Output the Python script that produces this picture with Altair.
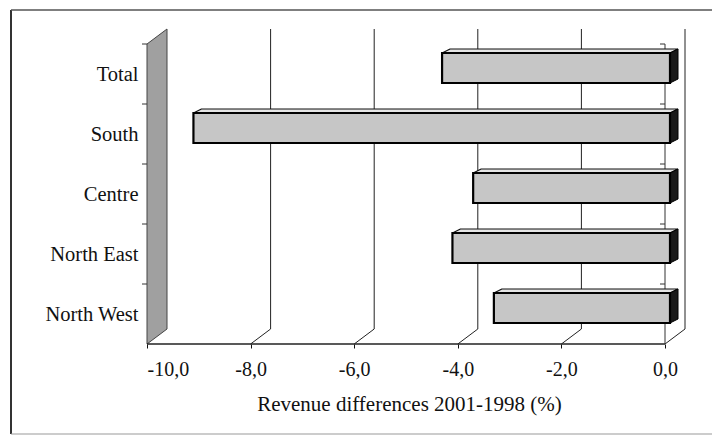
import json
import altair as alt
import pandas as pd

# ---- data ----
categories = ["Total", "South", "Centre", "North East", "North West"]
values = [-4.4, -9.2, -3.8, -4.2, -3.4]
x_ticks = [-10, -8, -6, -4, -2, 0]
axis_title = "Revenue differences 2001-1998 (%)"

# ---- geometry / style constants (pixels converted to scale units) ----
PX_X = 51.8          # pixels per x unit
PX_Y = 60.0          # pixels per category slot
X_MIN = x_ticks[0]
WALL_DX = 20 / PX_X  # depth of the 3-D box
WALL_DY = 15 / PX_Y
X_MAX = x_ticks[-1] + WALL_DX
Y_TOP = len(categories)
Y_MAX = Y_TOP + WALL_DY
BAR_SX = 5 / PX_X    # bar front plane shift
BAR_DX = 8 / PX_X    # bar depth
BAR_DY = 4 / PX_Y
BAR_UP = 21 / PX_Y
BAR_DN = 9 / PX_Y

W = round((X_MAX - X_MIN) * PX_X)
H = round(Y_MAX * PX_Y)

n = len(categories)
front, topf, rightf = [], [], []
for k, (cat, v) in enumerate(zip(categories, values)):
    c = (n - 1 - k) + 0.5
    b, t = c - BAR_DN, c + BAR_UP
    x0, x1 = v + BAR_SX, 0 + BAR_SX
    front.append(dict(cat=cat, x0=x0, x1=x1, yb=b, yt=t))
    topf.append(dict(cat=cat, y=t, xa=x0, xb=x1))
    topf.append(dict(cat=cat, y=t + BAR_DY, xa=x0 + BAR_DX, xb=x1 + BAR_DX))
    rightf.append(dict(cat=cat, x=x1, yb=b, yt=t))
    rightf.append(dict(cat=cat, x=x1 + BAR_DX, yb=b + BAR_DY, yt=t + BAR_DY))

front_df = pd.DataFrame(front)
top_df = pd.DataFrame(topf)
right_df = pd.DataFrame(rightf)
wall_df = pd.DataFrame([
    dict(x=X_MIN, yb=0, yt=Y_TOP),
    dict(x=X_MIN + WALL_DX, yb=WALL_DY, yt=Y_TOP + WALL_DY),
])
grid_back_df = pd.DataFrame([dict(x=v + WALL_DX, y=WALL_DY, y2=Y_TOP + WALL_DY) for v in x_ticks[1:]])
grid_slant_df = pd.DataFrame([dict(x=v, x2=v + WALL_DX, y=0, y2=WALL_DY) for v in x_ticks[1:]])
axis_line_df = pd.DataFrame([dict(x=X_MIN, x2=x_ticks[-1], y=0)])
zero_line_df = pd.DataFrame([dict(x=x_ticks[-1], y=0, y2=Y_TOP)])
cat_ticks_df = pd.DataFrame([dict(x=xp, y=b) for xp in (X_MIN, x_ticks[-1]) for b in range(1, n + 1)])
one = pd.DataFrame([dict(a=0)])

xs = alt.Scale(domain=[X_MIN, X_MAX], nice=False, zero=False)
ys = alt.Scale(domain=[0, Y_MAX], nice=False, zero=False)

FONT = "Liberation Serif"
names_bottom_up = categories[::-1]

x_axis = alt.Axis(
    values=x_ticks, labelExpr="datum.value + ',0'", domain=False, grid=False,
    ticks=True, tickSize=4, tickColor="#111", labelFont=FONT, labelFontSize=20,
    labelColor="#111", labelPadding=11, title=axis_title, titleFont=FONT,
    titleFontSize=21, titleFontWeight="normal", titleColor="#111",
    titlePadding=14, titleX=262,
)
y_axis = alt.Axis(
    values=[i + 0.5 for i in range(n)],
    labelExpr=json.dumps(names_bottom_up) + "[floor(datum.value)]",
    domain=False, grid=False, ticks=False, labelPadding=9, labelFont=FONT,
    labelFontSize=20.5, labelColor="#111", title="",
)

frame_color = "#555"
frame_left = alt.Chart(one).mark_rule(color="#333", strokeWidth=2).encode(
    x=alt.value(-136), y=alt.value(-19), y2=alt.value(405))
frame_top = alt.Chart(one).mark_rule(color=frame_color, strokeWidth=1.5).encode(
    x=alt.value(-136), x2=alt.value(565), y=alt.value(-19))
frame_bottom = alt.Chart(one).mark_rule(color="#999", strokeWidth=1).encode(
    x=alt.value(-136), x2=alt.value(565), y=alt.value(405))

wall = alt.Chart(wall_df).mark_area(fill="#a0a0a0", stroke="#444", strokeWidth=1).encode(
    x=alt.X("x:Q", scale=xs, axis=x_axis),
    y=alt.Y("yb:Q", scale=ys, axis=y_axis),
    y2="yt:Q",
)

grid_back = alt.Chart(grid_back_df).mark_rule(color="#222", strokeWidth=1).encode(
    x=alt.X("x:Q", scale=xs), y=alt.Y("y:Q", scale=ys), y2="y2:Q")
grid_slant = alt.Chart(grid_slant_df).mark_rule(color="#222", strokeWidth=1).encode(
    x=alt.X("x:Q", scale=xs), x2="x2:Q",
    y=alt.Y("y:Q", scale=ys), y2="y2:Q")
axis_line = alt.Chart(axis_line_df).mark_rule(color="#222", strokeWidth=1.5).encode(
    x=alt.X("x:Q", scale=xs), x2="x2:Q", y=alt.Y("y:Q", scale=ys))
zero_line = alt.Chart(zero_line_df).mark_rule(color="#333", strokeWidth=1).encode(
    x=alt.X("x:Q", scale=xs), y=alt.Y("y:Q", scale=ys), y2="y2:Q")
cat_ticks = alt.Chart(cat_ticks_df).mark_rule(color="#333", strokeWidth=1, xOffset=-5).encode(
    x=alt.X("x:Q", scale=xs), x2="x:Q", y=alt.Y("y:Q", scale=ys))

top_face = alt.Chart(top_df).mark_area(orient="horizontal", fill="#e4e4e4", stroke="#111",
                                       strokeWidth=1.2).encode(
    y=alt.Y("y:Q", scale=ys),
    x=alt.X("xa:Q", scale=xs), x2="xb:Q", detail="cat:N")
right_face = alt.Chart(right_df).mark_area(fill="#1a1a1a", stroke="#000", strokeWidth=1).encode(
    x=alt.X("x:Q", scale=xs),
    y=alt.Y("yb:Q", scale=ys), y2="yt:Q", detail="cat:N")
front_face = alt.Chart(front_df).mark_rect(fill="#c6c6c6", stroke="#000", strokeWidth=2.2).encode(
    x=alt.X("x0:Q", scale=xs), x2="x1:Q",
    y=alt.Y("yb:Q", scale=ys), y2="yt:Q")

chart = alt.layer(
    wall, frame_left, frame_top, frame_bottom, grid_back, grid_slant, axis_line,
    zero_line, cat_ticks, top_face, right_face, front_face,
).properties(
    width=W, height=H,
    padding={"left": 139, "top": 21, "right": 704 - 139 - W, "bottom": 427 - 21 - H},
    autosize=alt.AutoSizeParams(type="none"),
    background="white",
).configure_view(strokeWidth=0)

chart.save("out.html", embed_options={"renderer": "svg", "actions": False})
